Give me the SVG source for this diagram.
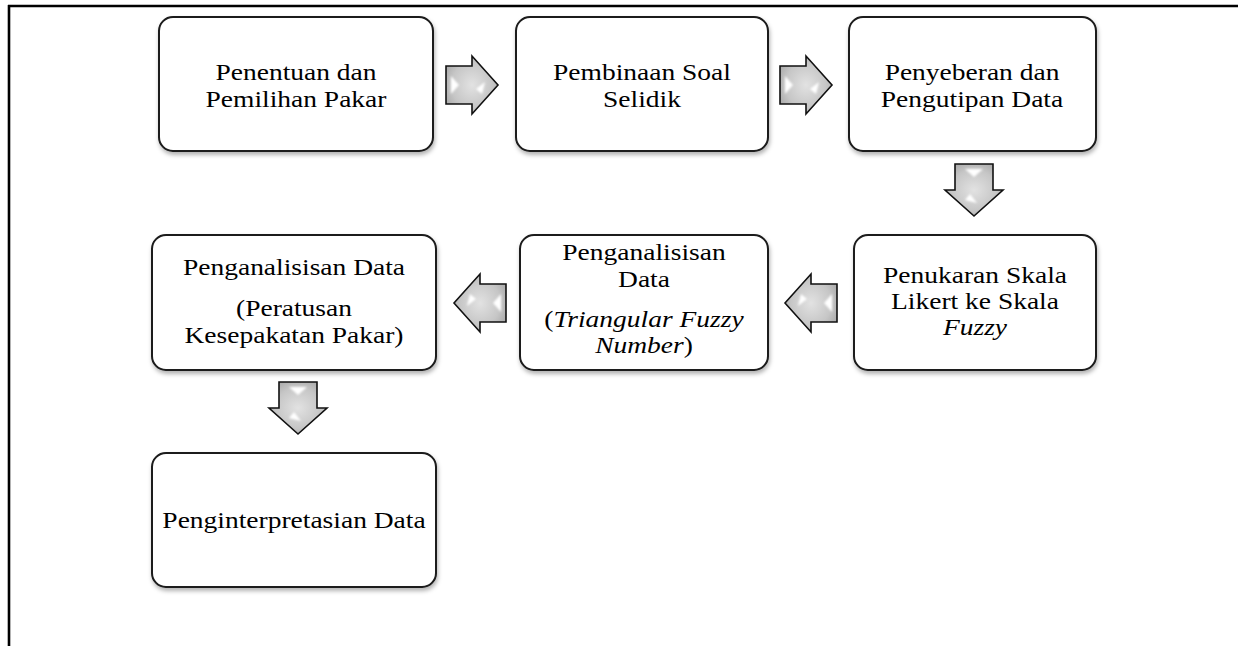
<svg xmlns="http://www.w3.org/2000/svg" width="1238" height="646" viewBox="0 0 1238 646">
  <style>
    .box { fill: #ffffff; stroke: #1a1a1a; stroke-width: 2; filter: url(#sh); }
    .t { font-family: "Liberation Serif", "Times New Roman", serif; font-size: 23.5px; fill: #000; text-anchor: middle; }
    .frame { stroke: #000; stroke-width: 2.6; fill: none; }
    .arr { fill: url(#ag); stroke: #111; stroke-width: 1.6; stroke-linejoin: miter; }
    .hl { fill: #ffffff; filter: url(#bl); }
  </style>
  <defs>
    <filter id="sh" x="-10%" y="-10%" width="125%" height="130%">
      <feDropShadow dx="1" dy="3" stdDeviation="2" flood-color="#000" flood-opacity="0.3"/>
    </filter>
    <filter id="bl" x="-50%" y="-50%" width="200%" height="200%">
      <feGaussianBlur stdDeviation="0.9"/>
    </filter>
    <radialGradient id="ag" cx="0.5" cy="0.5" r="0.6">
      <stop offset="0" stop-color="#e2e2e2"/>
      <stop offset="0.65" stop-color="#c6c6c6"/>
      <stop offset="1" stop-color="#a8a8a8"/>
    </radialGradient>
    <path id="arrow" d="M-26,-19 L0,-19 L0,-29 L26,0 L0,29 L0,19 L-26,19 Z"/>
    <g id="arrowG">
      <use href="#arrow" class="arr"/>
      <path class="hl" d="M-21,-9 L-13,0 L-21,9 Z"/>
      <path class="hl" d="M4,4 L13,-3 L10,9 Z"/>
    </g>
  </defs>

  <g id="frame">
    <line class="frame" x1="8" y1="6" x2="1238" y2="6"/>
    <line class="frame" x1="9" y1="5" x2="9" y2="646"/>
  </g>

  <g id="connectors">
    <use href="#arrowG" transform="translate(472,85)"/>
    <use href="#arrowG" transform="translate(806,85)"/>
    <use href="#arrowG" transform="translate(974,190) rotate(90)"/>
    <use href="#arrowG" transform="translate(811,303) rotate(180)"/>
    <use href="#arrowG" transform="translate(480,303) rotate(180)"/>
    <use href="#arrowG" transform="translate(298,408) rotate(90)"/>
  </g>

  <g id="n1">
    <rect class="box" x="159" y="17" width="274" height="134" rx="14"/>
    <g transform="translate(296,0) scale(1.17,1)">
      <text class="t" x="0" y="80">Penentuan dan</text>
      <text class="t" x="0" y="107">Pemilihan Pakar</text>
    </g>
  </g>
  <g id="n2">
    <rect class="box" x="516" y="17" width="252" height="134" rx="14"/>
    <g transform="translate(642,0) scale(1.17,1)">
      <text class="t" x="0" y="80">Pembinaan Soal</text>
      <text class="t" x="0" y="107">Selidik</text>
    </g>
  </g>
  <g id="n3">
    <rect class="box" x="849" y="17" width="247" height="134" rx="14"/>
    <g transform="translate(972,0) scale(1.17,1)">
      <text class="t" x="0" y="80">Penyeberan dan</text>
      <text class="t" x="0" y="107">Pengutipan Data</text>
    </g>
  </g>
  <g id="n4">
    <rect class="box" x="854" y="235" width="242" height="135" rx="14"/>
    <g transform="translate(975,0) scale(1.17,1)">
      <text class="t" x="0" y="283">Penukaran Skala</text>
      <text class="t" x="0" y="309">Likert ke Skala</text>
      <text class="t" x="0" y="335" font-style="italic">Fuzzy</text>
    </g>
  </g>
  <g id="n5">
    <rect class="box" x="520" y="235" width="248" height="135" rx="14"/>
    <g transform="translate(644,0) scale(1.17,1)">
      <text class="t" x="0" y="260">Penganalisisan</text>
      <text class="t" x="0" y="287">Data</text>
      <text class="t" x="0" y="327">(<tspan font-style="italic">Triangular Fuzzy</tspan></text>
      <text class="t" x="0" y="353"><tspan font-style="italic">Number</tspan>)</text>
    </g>
  </g>
  <g id="n6">
    <rect class="box" x="152" y="235" width="284" height="135" rx="14"/>
    <g transform="translate(294,0) scale(1.17,1)">
      <text class="t" x="0" y="275">Penganalisisan Data</text>
      <text class="t" x="0" y="316">(Peratusan</text>
      <text class="t" x="0" y="343">Kesepakatan Pakar)</text>
    </g>
  </g>
  <g id="n7">
    <rect class="box" x="152" y="453" width="284" height="134" rx="14"/>
    <g transform="translate(294,0) scale(1.17,1)">
      <text class="t" x="0" y="528">Penginterpretasian Data</text>
    </g>
  </g>
</svg>
